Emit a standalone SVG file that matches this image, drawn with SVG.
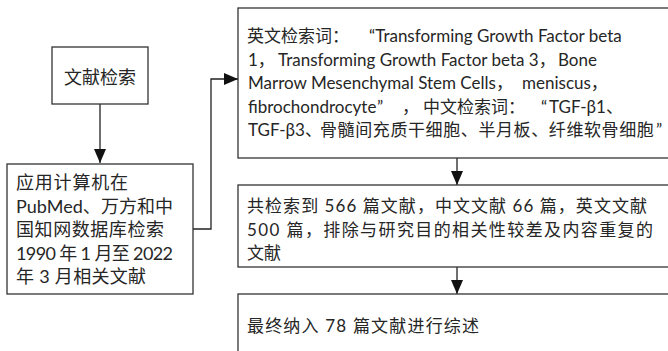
<svg xmlns="http://www.w3.org/2000/svg" width="668" height="351" viewBox="0 0 668 351">
<style>
.box{fill:#fff;stroke:#333;stroke-width:1.3}
.t{font-family:"Lato","Noto Sans CJK SC",sans-serif;font-size:17px;fill:#262626}
.b2{font-size:18px}
.c{fill:none;stroke:#222;stroke-width:1.3}
</style>
<defs>
<marker id="ah" markerWidth="14" markerHeight="12" refX="14" refY="6" orient="auto" markerUnits="userSpaceOnUse">
<path d="M0,0 L14,6 L0,12 Z" fill="#111"/>
</marker>
</defs>
<rect width="668" height="351" fill="#fff"/>
<g id="connectors">
<path class="c" d="M100,104 V163" marker-end="url(#ah)"/>
<path class="c" d="M193,229 H211 V79 H238" marker-end="url(#ah)"/>
<path class="c" d="M457,158 V185" marker-end="url(#ah)"/>
<path class="c" d="M457,267 V294" marker-end="url(#ah)"/>
</g>
<g id="n1">
<rect class="box" x="52" y="47" width="96" height="57"/>
<text class="t b2" x="100" y="84" text-anchor="middle">文献检索</text>
</g>
<g id="n2">
<rect class="box" x="7" y="164" width="186" height="130"/>
<text class="t b2" x="16" y="189" textLength="112" lengthAdjust="spacing">应用计算机在</text>
<text class="t b2" x="16" y="212.5" textLength="157" lengthAdjust="spacing">PubMed、万方和中</text>
<text class="t b2" x="16" y="236" textLength="148" lengthAdjust="spacing">国知网数据库检索</text>
<text class="t b2" x="16" y="259.5" textLength="157" lengthAdjust="spacing">1990 年 1 月至 2022</text>
<text class="t b2" x="16" y="283" textLength="130" lengthAdjust="spacing">年 3 月相关文献</text>
</g>
<g id="n3">
<rect class="box" x="238" y="8" width="440" height="150"/>
<text class="t" y="42"><tspan x="247">英文检索词：</tspan><tspan x="369">“Transforming Growth Factor beta</tspan></text>
<text class="t" y="65.5"><tspan x="248">1，</tspan><tspan x="278">Transforming Growth Factor beta 3，</tspan><tspan x="558">Bone</tspan></text>
<text class="t" y="89"><tspan x="248">Marrow Mesenchymal Stem Cells，</tspan><tspan x="522">meniscus，</tspan></text>
<text class="t" y="112.5"><tspan x="248">fibrochondrocyte</tspan><tspan x="377">”</tspan><tspan x="402">，</tspan><tspan x="423">中文检索词：</tspan><tspan x="541">“</tspan><tspan x="549">TGF-β1、</tspan></text>
<text class="t" y="136"><tspan x="248">TGF-β3、</tspan><tspan x="320" letter-spacing="0.6">骨髓间充质干细胞、半月板、纤维软骨细胞</tspan><tspan x="656">”</tspan></text>
</g>
<g id="n4">
<rect class="box" x="238" y="185" width="440" height="82"/>
<text class="t" x="247" y="212" textLength="400" lengthAdjust="spacing">共检索到 566 篇文献，中文文献 66 篇，英文文献</text>
<text class="t" x="247" y="235.5" textLength="406" lengthAdjust="spacing">500 篇，排除与研究目的相关性较差及内容重复的</text>
<text class="t" x="247" y="259">文献</text>
</g>
<g id="n5">
<rect class="box" x="238" y="294" width="440" height="70"/>
<text class="t" x="247" y="332" textLength="232" lengthAdjust="spacing">最终纳入 78 篇文献进行综述</text>
</g>
</svg>
